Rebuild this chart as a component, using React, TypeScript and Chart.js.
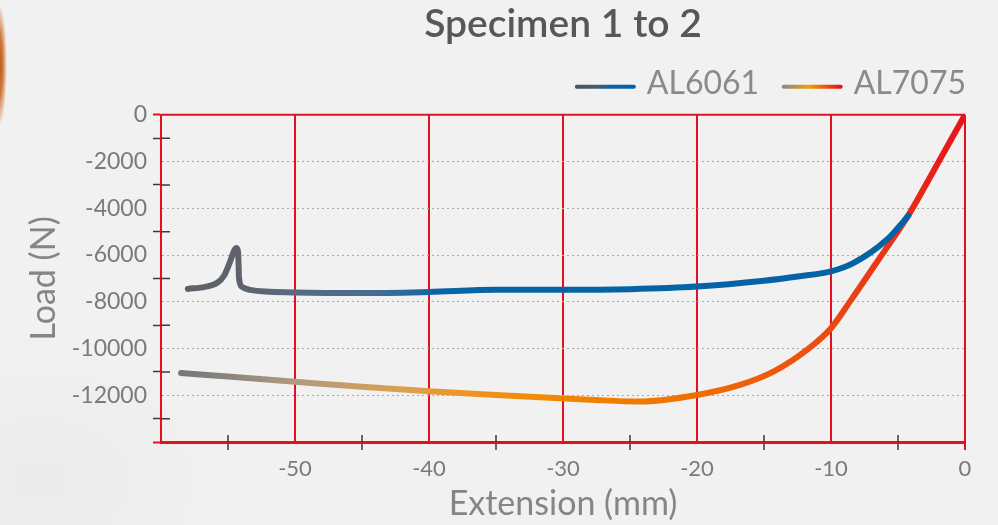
import React, { useEffect, useRef } from 'react';
import { Chart, registerables } from 'chart.js';

Chart.register(...registerables);

// ---------- data ----------
const CHART_TITLE = 'Specimen 1 to 2';
const X_AXIS_TITLE = 'Extension (mm)';
const Y_AXIS_TITLE = 'Load (N)';
const SERIES_LABELS = ['AL6061', 'AL7075'];

const AL6061_EXTENSION = [
  -58.0, -56.7, -55.8, -55.3, -54.85, -54.55, -54.37, -54.25, -54.21, -54.18, -53.96, -53.36,
  -50, -45, -40, -35, -30, -25, -20, -15, -12.5, -10, -8.34, -5.84, -4.6, -4.23,
];
const AL6061_LOAD = [
  -7450, -7360, -7190, -6890, -6290, -5820, -5700, -5870, -6420, -6980, -7360, -7490,
  -7600, -7630, -7580, -7490, -7490, -7460, -7350, -7100, -6920, -6700, -6350, -5350, -4570, -4320,
];

const AL7075_EXTENSION = [
  -58.5, -55, -50, -45, -40, -35, -31.7, -28, -24.3, -20, -16.8, -14.3, -11.8, -10, -8.5,
  -6.5, -4.25, -2.1, 0,
];
const AL7075_LOAD = [
  -11050, -11200, -11420, -11640, -11830, -11990, -12090, -12190, -12270, -11990, -11560,
  -10990, -10060, -9130, -7920, -6240, -4320, -2150, 0,
];

const X_MIN = -60;
const X_MAX = 0;
const X_STEP = 5;
const Y_MIN = -14000;
const Y_MAX = 0;
const Y_STEP = 1000;
const X_LABEL_TICKS = [-50, -40, -30, -20, -10, 0];
const Y_LABEL_TICKS = [0, -2000, -4000, -6000, -8000, -10000, -12000];

// ---------- style ----------
const RED = '#e5101f';
const DARK_TICK = '#3a3a3a';
const DOT_GRID = '#a9a9a9';
const FONT = "Lato, 'Open Sans', sans-serif";

const BLUE_STOPS: [number, string][] = [
  [-60, '#5d6067'], [-54, '#5e636b'], [-50, '#586a80'], [-44, '#466e95'], [-39, '#0864a4'], [0, '#0062a6'],
];
const ORANGE_STOPS: [number, string][] = [
  [-60, '#737373'], [-57, '#7c7c7c'], [-50, '#b09a80'], [-42, '#dca050'], [-37, '#ef9420'],
  [-30, '#f28600'], [-22, '#f07400'], [-15, '#ee5c0a'], [-10, '#eb4a12'], [-5, '#e83018'], [0, '#e8121a'],
];
const LEGEND_STOPS: [number, string][][] = [
  [[0, '#4c5259'], [0.3, '#4e5a66'], [0.6, '#0a62a4'], [1, '#0062a6']],
  [[0, '#8a8a8a'], [0.45, '#f0a000'], [1, '#e8101a']],
];

function lineGradient(chart: any, stops: [number, string][]) {
  const { ctx, chartArea, scales } = chart;
  if (!chartArea || !scales.x) return stops[stops.length - 1][1];
  const x0 = scales.x.getPixelForValue(X_MIN);
  const x1 = scales.x.getPixelForValue(X_MAX);
  const g = ctx.createLinearGradient(x0, 0, x1, 0);
  for (const [v, c] of stops) g.addColorStop((v - X_MIN) / (X_MAX - X_MIN), c);
  return g;
}

const LEGEND_BOX_W = 63.5;
const LEGEND_FONT = 32;

const decorPlugin = {
  id: 'decor',
  beforeDatasetsDraw(chart: any) {
    const { ctx, chartArea: a, scales } = chart;
    const x = scales.x;
    const y = scales.y;
    ctx.save();
    ctx.strokeStyle = RED;
    ctx.lineWidth = 2;
    ctx.beginPath();
    ctx.moveTo(a.left, a.top);
    ctx.lineTo(a.right, a.top);
    ctx.stroke();
    ctx.strokeStyle = DARK_TICK;
    ctx.lineWidth = 1.5;
    ctx.beginPath();
    y.ticks.forEach((t: any) => {
      if (Math.abs(t.value) % 2000 === 1000) {
        const py = y.getPixelForValue(t.value);
        ctx.moveTo(a.left, py);
        ctx.lineTo(a.left + 9, py);
      }
    });
    x.ticks.forEach((t: any) => {
      if (t.value % 10 !== 0) {
        const px = x.getPixelForValue(t.value);
        ctx.moveTo(px, a.bottom);
        ctx.lineTo(px, a.bottom - 7);
      }
    });
    ctx.stroke();
    ctx.restore();
  },
  afterDraw(chart: any) {
    const legend = chart.legend;
    if (!legend || !legend.legendHitBoxes) return;
    const { ctx } = chart;
    ctx.save();
    ctx.lineWidth = 4;
    ctx.lineCap = 'round';
    legend.legendHitBoxes.forEach((hb: any, i: number) => {
      const textStart = hb.left + LEGEND_BOX_W + LEGEND_FONT / 2;
      const x1 = textStart - 13;
      const x0 = x1 - 57;
      const yy = hb.top + hb.height / 2 + 3;
      const g = ctx.createLinearGradient(x0, 0, x1, 0);
      LEGEND_STOPS[i].forEach(([o, c]) => g.addColorStop(o, c));
      ctx.strokeStyle = g;
      ctx.beginPath();
      ctx.moveTo(x0, yy);
      ctx.lineTo(x1, yy);
      ctx.stroke();
    });
    ctx.restore();
  },
};

export default function App() {
  const canvasRef = useRef<HTMLCanvasElement | null>(null);

  useEffect(() => {
    if (!canvasRef.current) return;
    const toPoints = (xs: number[], ys: number[]) => xs.map((v, i) => ({ x: v, y: ys[i] }));
    const chart = new Chart(canvasRef.current, {
      type: 'line',
      data: {
        datasets: [
          {
            label: SERIES_LABELS[0],
            data: toPoints(AL6061_EXTENSION, AL6061_LOAD),
            borderColor: (c: any) => lineGradient(c.chart, BLUE_STOPS),
            borderWidth: 6,
            borderCapStyle: 'round',
            borderJoinStyle: 'round',
            pointRadius: 0,
            cubicInterpolationMode: 'monotone',
            fill: false,
          },
          {
            label: SERIES_LABELS[1],
            data: toPoints(AL7075_EXTENSION, AL7075_LOAD),
            borderColor: (c: any) => lineGradient(c.chart, ORANGE_STOPS),
            borderWidth: 6,
            borderCapStyle: 'round',
            borderJoinStyle: 'round',
            pointRadius: 0,
            cubicInterpolationMode: 'monotone',
            fill: false,
          },
        ],
      },
      options: {
        responsive: false,
        animation: false,
        events: [],
        layout: { padding: { left: 0, right: 17, top: 0, bottom: 0 } },
        plugins: {
          tooltip: { enabled: false },
          title: {
            display: true,
            text: CHART_TITLE,
            fullSize: false,
            color: '#575757',
            font: { family: FONT, size: 39, weight: '600', lineHeight: 1.2 },
            padding: { top: 1, bottom: 0 },
          },
          legend: {
            display: true,
            position: 'top',
            align: 'end',
            fullSize: true,
            labels: {
              boxWidth: LEGEND_BOX_W,
              boxHeight: 42,
              padding: 15,
              color: '#8a8a8a',
              font: { family: FONT, size: LEGEND_FONT },
              generateLabels: (ch: any) =>
                ch.data.datasets.map((ds: any, i: number) => ({
                  text: ds.label,
                  fillStyle: 'rgba(0,0,0,0)',
                  strokeStyle: 'rgba(0,0,0,0)',
                  lineWidth: 0,
                  hidden: false,
                  datasetIndex: i,
                  fontColor: '#8a8a8a',
                })),
            },
          },
        },
        scales: {
          x: {
            type: 'linear',
            position: 'bottom',
            min: X_MIN,
            max: X_MAX,
            afterFit: (s: any) => {
              s.height = 83;
            },
            ticks: {
              stepSize: X_STEP,
              autoSkip: false,
              maxRotation: 0,
              padding: 6,
              color: '#7a7a7a',
              font: { family: FONT, size: 22 },
              callback: (v: any) => (X_LABEL_TICKS.includes(Number(v)) ? String(v) : ''),
            },
            grid: {
              drawOnChartArea: true,
              drawTicks: true,
              tickLength: 8,
              color: (c: any) => (c.tick && c.tick.value % 10 === 0 ? RED : 'rgba(0,0,0,0)'),
              lineWidth: 2,
              tickColor: (c: any) => {
                if (!c.tick) return 'rgba(0,0,0,0)';
                if (c.tick.value === 0) return RED;
                return c.tick.value % 10 !== 0 ? DARK_TICK : 'rgba(0,0,0,0)';
              },
              tickWidth: (c: any) => (c.tick && c.tick.value === 0 ? 2 : 1.5),
            },
            border: { display: true, color: RED, width: 3 },
            title: {
              display: true,
              text: X_AXIS_TITLE,
              color: '#858585',
              font: { family: FONT, size: 34, lineHeight: 1.2 },
              padding: { top: 0, bottom: 1 },
            },
          },
          y: {
            type: 'linear',
            position: 'left',
            min: Y_MIN,
            max: Y_MAX,
            afterFit: (s: any) => {
              s.width = 161;
            },
            ticks: {
              stepSize: Y_STEP,
              autoSkip: false,
              padding: 6,
              color: '#7a7a7a',
              font: { family: FONT, size: 23 },
              callback: (v: any) => (Y_LABEL_TICKS.includes(Number(v)) ? String(v) : ''),
            },
            grid: {
              drawOnChartArea: true,
              drawTicks: true,
              tickLength: 8,
              color: (c: any) => {
                if (!c.tick) return 'rgba(0,0,0,0)';
                const v = c.tick.value;
                return v !== Y_MAX && v !== Y_MIN && Math.abs(v) % 2000 === 0 ? DOT_GRID : 'rgba(0,0,0,0)';
              },
              lineWidth: 1,
              tickColor: (c: any) => {
                if (!c.tick) return 'rgba(0,0,0,0)';
                const v = c.tick.value;
                if (v === Y_MAX || v === Y_MIN) return RED;
                return Math.abs(v) % 2000 === 1000 ? DARK_TICK : 'rgba(0,0,0,0)';
              },
              tickWidth: (c: any) => (c.tick && (c.tick.value === Y_MAX || c.tick.value === Y_MIN) ? 2 : 1.5),
            },
            border: { display: true, color: RED, width: 2, dash: [2, 3] },
            title: {
              display: true,
              text: Y_AXIS_TITLE,
              color: '#858585',
              font: { family: FONT, size: 34, lineHeight: 1.2 },
              padding: { top: 24, bottom: 0 },
            },
          },
          yRight: {
            type: 'linear',
            position: 'right',
            display: true,
            min: Y_MIN,
            max: Y_MAX,
            afterFit: (s: any) => {
              s.width = 16;
            },
            ticks: { display: false },
            grid: { display: false, drawTicks: false },
            border: { display: false },
          },
        },
      } as any,
      plugins: [decorPlugin],
    });
    return () => chart.destroy();
  }, []);

  return (
    <div
      style={{
        position: 'fixed',
        left: 0,
        top: 0,
        width: 998,
        height: 525,
        overflow: 'hidden',
        background:
          'radial-gradient(ellipse 8px 62px at -1px 65px, #b4501c 0%, #d07a3c 50%, rgba(240,240,240,0) 100%), radial-gradient(ellipse 200px 140px at 40px 480px, #ebebeb 0%, rgba(240,240,240,0) 100%), #f1f1f1',
      }}
    >
      <canvas ref={canvasRef} width={998} height={525} style={{ display: 'block' }} />
    </div>
  );
}
